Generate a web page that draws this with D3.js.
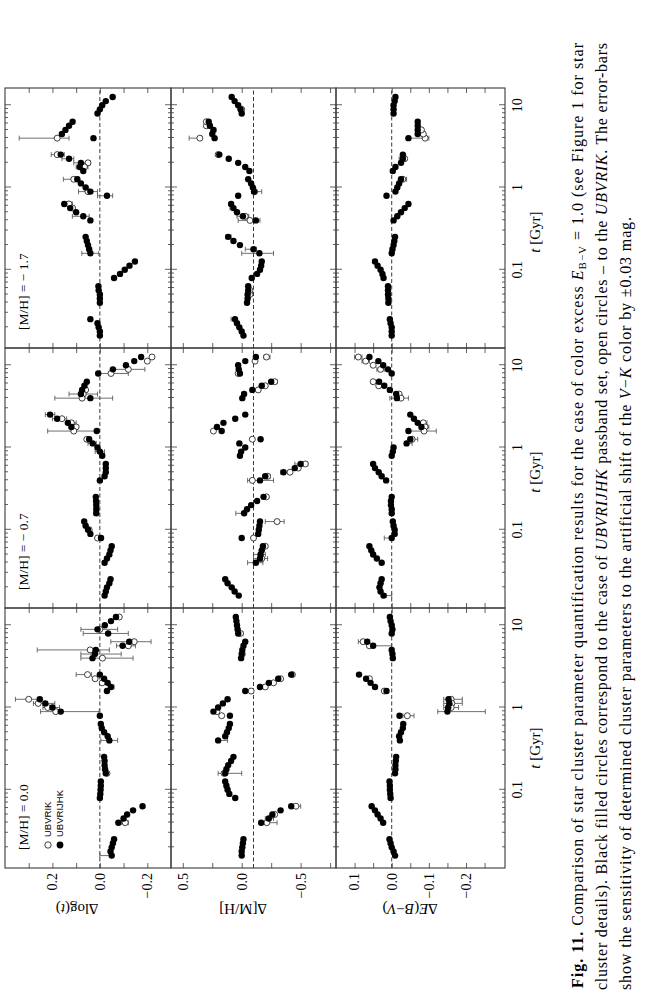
<!DOCTYPE html>
<html>
<head>
<meta charset="utf-8">
<script src="https://cdn.jsdelivr.net/npm/d3@7"></script>
<style>
  html, body { margin: 0; padding: 0; background: #fff; }
  svg { display: block; }
  text { font-family: "Liberation Serif", "Times New Roman", serif; fill: #000; }
</style>
</head>
<body>
<svg id="fig" width="659" height="1008"></svg>
<script>
// log10 of the cluster age in years, same grid in every panel
const logAges = [7.2, 7.25, 7.3, 7.35, 7.4, 7.6, 7.65, 7.7, 7.75, 7.8, 7.9, 7.95, 8.0, 8.05, 8.1,
  8.2, 8.25, 8.3, 8.35, 8.4, 8.6, 8.65, 8.7, 8.75, 8.8, 8.9, 8.95, 9.0, 9.05, 9.1,
  9.2, 9.25, 9.3, 9.35, 9.4, 9.6, 9.65, 9.7, 9.75, 9.8, 9.9, 9.95, 10.0, 10.05, 10.1];

const metLabels = ["[M/H] = 0.0", "[M/H] = − 0.7", "[M/H] = − 1.7"];
const legendLabels = ["UBVRIK", "UBVRIJHK"];
const xMajorTicks = [0.1, 1, 10];
const xMinorTicks = [0.02, 0.03, 0.04, 0.05, 0.06, 0.07, 0.08, 0.09, 0.2, 0.3, 0.4, 0.5, 0.6, 0.7, 0.8, 0.9, 2, 3, 4, 5, 6, 7, 8, 9];
const xTickLabels = ["0.1", "1", "10"];

// ---- Delta log(t) : filled = UBVRIJHK, open = UBVRIK, err = [logAge, lo, hi]
const dlogtFilled0 = [-0.05, -0.045, -0.05, -0.055, -0.06, -0.078, -0.1, -0.115, -0.14, -0.18, 0.0, -0.002, -0.003, -0.004, -0.004,
  -0.025, -0.022, -0.02, -0.02, -0.018, -0.04, -0.033, -0.018, -0.008, -0.004, 0.0, 0.165, 0.2, 0.23, 0.253,
  -0.03, -0.047, -0.033, -0.018, 0.0, 0.031, 0.021, 0.017, -0.096, -0.124, -0.035, 0.01, -0.021, -0.047, -0.068];
const dlogtOpen0 = [[10.1, -0.082], [9.95, 0.0], [9.8, -0.145], [9.75, -0.12], [9.7, 0.041], [9.6, -0.011], [9.4, 0.052],
  [9.35, 0.02], [9.3, -0.01], [9.1, 0.3], [9.05, 0.26], [9.0, 0.22], [8.95, 0.186], [7.6, -0.107], [8.2, -0.03]];
const dlogtErr0 = [[9.95, -0.075, 0.08], [9.9, -0.12, 0.07], [9.8, -0.216, -0.046], [9.75, -0.15, -0.07], [9.7, -0.04, 0.264],
  [9.65, -0.09, 0.08], [9.6, -0.14, 0.08], [9.4, 0.035, 0.1], [9.25, -0.06, -0.035], [9.1, 0.264, 0.356], [9.05, 0.19, 0.28],
  [9.0, 0.17, 0.24], [8.95, 0.003, 0.25], [8.6, -0.075, -0.004], [7.6, -0.12, -0.09], [7.2, -0.047, 0.0]];

const dlogtFilled1 = [-0.02, -0.025, -0.03, -0.04, -0.045, -0.02, -0.03, -0.04, -0.045, -0.05, -0.005, 0.04, 0.05, 0.06, 0.066,
  0.015, 0.015, 0.015, 0.016, 0.017, 0.0, -0.02, -0.025, -0.025, -0.025, -0.01, 0.0, 0.01, 0.03, 0.045,
  0.013, 0.12, 0.135, 0.18, 0.21, 0.04, 0.08, 0.075, 0.065, 0.055, 0.007, -0.055, -0.11, -0.145, -0.174];
const dlogtOpen1 = [[10.1, -0.22], [10.05, -0.2], [9.95, -0.12], [9.9, -0.047], [9.7, 0.06], [9.65, 0.07], [9.6, 0.075],
  [9.35, 0.16], [9.3, 0.12], [9.25, 0.1], [9.2, 0.11], [9.1, 0.055], [8.0, 0.045], [7.9, 0.01]];
const dlogtErr1 = [[9.95, -0.19, -0.055], [9.9, -0.12, 0.0], [9.65, 0.01, 0.13], [9.6, -0.054, 0.19], [9.4, 0.19, 0.23],
  [9.35, 0.14, 0.2], [9.3, 0.1, 0.14], [9.2, 0.01, 0.22], [9.05, 0.015, 0.05], [8.95, -0.02, 0.02], [8.3, 0.01, 0.025], [8.2, 0.008, 0.025]];

const dlogtFilled2 = [0.0, 0.0, 0.005, 0.01, 0.04, 0.0, 0.0, 0.0, 0.005, 0.006, -0.06, -0.085, -0.105, -0.125, -0.148,
  0.04, 0.045, 0.05, 0.055, 0.06, 0.04, 0.07, 0.1, 0.125, 0.15, -0.03, 0.04, 0.06, 0.08, 0.095,
  0.07, 0.085, 0.08, 0.13, 0.165, 0.027, 0.16, 0.145, 0.13, 0.115, 0.01, 0.0, -0.01, -0.025, -0.054];
const dlogtOpen2 = [[9.6, 0.18], [9.4, 0.18], [9.1, 0.11], [9.3, 0.05], [9.25, 0.065], [8.95, 0.05], [8.8, 0.13], [8.75, 0.115]];
const dlogtErr2 = [[9.6, 0.13, 0.34], [9.4, 0.15, 0.205], [9.35, 0.11, 0.16], [9.3, 0.04, 0.11], [9.25, 0.05, 0.1],
  [9.1, 0.088, 0.154], [8.95, 0.01, 0.09], [8.9, -0.054, 0.01], [8.8, 0.116, 0.158], [8.65, 0.045, 0.116], [8.2, 0.005, 0.076]];

// ---- Delta [M/H]
const dmhFilled0 = [0.0, 0.0, -0.005, -0.01, -0.015, -0.165, -0.23, -0.26, -0.33, -0.42, 0.055, 0.105, 0.12, 0.13, 0.14,
  0.14, 0.13, 0.115, 0.09, 0.07, 0.2, 0.14, 0.125, 0.11, 0.1, 0.1, 0.24, 0.2, 0.16, 0.12,
  -0.03, -0.155, -0.23, -0.31, -0.42, 0.005, 0.0, -0.005, -0.015, -0.03, 0.03, 0.035, 0.04, 0.045, 0.05];
const dmhOpen0 = [[7.8, -0.46], [7.7, -0.28], [7.6, -0.213], [8.9, 0.17], [8.95, 0.21], [9.2, -0.08], [9.25, -0.2],
  [9.3, -0.27], [9.35, -0.33], [9.4, -0.43], [8.2, 0.15], [9.9, 0.01], [9.65, -0.005]];
const dmhErr0 = [[7.8, -0.5, -0.44], [7.6, -0.3, -0.2], [7.65, -0.27, -0.2], [8.6, 0.12, 0.2], [8.2, 0.0, 0.2],
  [9.9, -0.01, 0.03], [9.2, -0.1, -0.07]];

const dmhFilled1 = [0.025, 0.06, 0.085, 0.12, 0.14, -0.12, -0.155, -0.16, -0.17, -0.18, 0.0, -0.14, -0.145, -0.15, -0.155,
  -0.02, -0.045, -0.08, -0.13, -0.185, -0.155, -0.2, -0.355, -0.45, -0.5, 0.015, 0.005, -0.03, 0.02, -0.16,
  0.17, 0.21, 0.155, 0.055, -0.03, -0.005, -0.02, -0.09, -0.17, -0.25, 0.015, 0.025, 0.03, -0.03, -0.12];
const dmhOpen1 = [[10.1, -0.21], [10.05, -0.113], [9.9, 0.03], [9.8, -0.28], [9.75, -0.2], [9.7, -0.14], [9.2, 0.24],
  [9.1, -0.09], [8.8, -0.54], [8.75, -0.48], [8.7, -0.41], [8.65, -0.22], [8.6, -0.09], [8.4, -0.21], [8.1, -0.3],
  [7.9, -0.1], [7.8, -0.2], [7.65, -0.17]];
const dmhErr1 = [[10.1, -0.24, -0.19], [9.8, -0.3, -0.24], [8.8, -0.56, -0.45], [8.7, -0.41, -0.33], [8.65, -0.24, -0.18],
  [8.6, -0.27, -0.05], [8.2, -0.04, 0.05], [8.1, -0.36, -0.2], [7.7, -0.2, -0.1], [7.65, -0.22, -0.1], [7.6, -0.18, -0.05]];

const dmhFilled2 = [-0.015, 0.0, 0.02, 0.04, 0.057, -0.045, -0.05, -0.05, -0.055, -0.055, -0.085, -0.13, -0.155, -0.165, -0.17,
  -0.15, -0.1, 0.015, 0.07, 0.115, -0.12, -0.01, 0.04, 0.07, 0.09, 0.03, -0.105, -0.095, -0.08, -0.055,
  -0.065, -0.03, 0.03, 0.11, 0.19, 0.23, 0.25, 0.24, 0.27, 0.28, 0.0, 0.01, 0.03, 0.06, 0.085];
const dmhOpen2 = [[9.6, 0.355], [9.75, 0.3], [9.8, 0.3], [9.4, 0.2], [8.95, -0.11], [8.6, -0.07], [8.65, -0.03],
  [7.7, -0.07], [7.75, -0.07], [9.95, 0.0]];
const dmhErr2 = [[9.6, 0.34, 0.446], [9.7, 0.22, 0.26], [8.95, -0.17, -0.085], [8.6, -0.155, 0.03], [8.65, -0.06, 0.04],
  [8.4, 0.09, 0.135], [8.25, -0.125, -0.03], [8.2, -0.27, 0.0], [7.4, 0.05, 0.09], [8.75, 0.06, 0.1]];

// ---- Delta E(B-V)
const debvFilled0 = [-0.009, -0.005, 0.0, 0.003, 0.006, 0.023, 0.03, 0.038, 0.045, 0.054, 0.003, 0.004, 0.005, 0.005, 0.006,
  -0.009, -0.01, -0.01, -0.011, -0.012, -0.022, -0.02, -0.025, -0.03, -0.031, -0.021, -0.15, -0.152, -0.155, -0.153,
  0.014, 0.045, 0.057, 0.069, 0.088, -0.003, -0.002, 0.0, 0.05, 0.066, 0.0, -0.002, 0.0, 0.003, 0.005];
const debvOpen0 = [[9.8, 0.077], [9.75, 0.06], [9.35, 0.06], [9.2, 0.02], [9.1, -0.16], [9.05, -0.162], [9.0, -0.16], [8.9, -0.042]];
const debvErr0 = [[9.8, 0.06, 0.09], [9.75, 0.0, 0.063], [9.1, -0.19, -0.14], [9.05, -0.19, -0.14], [9.0, -0.18, -0.14],
  [8.95, -0.252, -0.124], [8.9, -0.06, -0.03]];

const debvFilled1 = [0.022, 0.03, 0.033, 0.03, 0.027, 0.027, 0.04, 0.05, 0.055, 0.06, 0.0, -0.008, -0.008, -0.005, -0.003,
  0.0, 0.0, 0.002, 0.002, 0.0, 0.015, 0.027, 0.035, 0.045, 0.05, 0.0, -0.003, -0.005, -0.04, -0.05,
  -0.045, -0.08, -0.07, -0.06, -0.05, -0.014, -0.012, 0.005, 0.02, 0.034, 0.0, 0.01, 0.023, 0.036, 0.06];
const debvOpen1 = [[10.1, 0.09], [10.05, 0.07], [10.0, 0.05], [9.95, 0.03], [9.8, 0.05], [9.75, 0.035], [9.65, -0.02],
  [9.6, -0.025], [9.3, -0.085], [9.25, -0.09], [9.2, -0.087], [9.1, -0.055]];
const debvErr1 = [[10.1, 0.08, 0.1], [10.05, 0.06, 0.08], [9.95, 0.02, 0.04], [9.6, -0.045, 0.005], [9.3, -0.095, -0.07],
  [9.25, -0.1, -0.075], [9.2, -0.12, -0.045], [9.1, -0.07, -0.045], [9.05, -0.055, -0.04], [7.9, 0.0, 0.02], [7.2, 0.0, 0.015]];

const debvFilled2 = [0.0, 0.0, 0.0, 0.003, 0.005, 0.009, 0.009, 0.01, 0.01, 0.01, 0.022, 0.025, 0.03, 0.038, 0.045,
  0.0, -0.002, -0.005, -0.007, -0.009, -0.005, -0.015, -0.025, -0.035, -0.045, 0.014, -0.01, -0.015, -0.02, -0.025,
  -0.003, -0.01, -0.025, -0.03, -0.03, -0.045, -0.07, -0.07, -0.07, -0.07, -0.005, -0.005, -0.005, -0.008, -0.01];
const debvOpen2 = [[9.6, -0.09], [9.65, -0.085], [9.7, -0.08], [9.1, -0.03], [9.35, -0.035]];
const debvErr2 = [[9.6, -0.1, -0.05], [9.1, -0.04, -0.02], [9.35, -0.04, -0.02], [8.8, -0.05, -0.04]];

// ---------------------------------------------------------------- layout (upright frame, rotated at the end)
const W = 1008, H = 659;
const colX = [140, 400, 660], colW = 260;
const rows = [
  { y0: 5, y1: 171, domain: [-0.3, 0.4], ticks: [-0.2, -0.1, 0, 0.1, 0.2, 0.3], labels: [-0.2, 0, 0.2], ref: 0,
    title: "log", titleY: 77, filled: [dlogtFilled0, dlogtFilled1, dlogtFilled2], open: [dlogtOpen0, dlogtOpen1, dlogtOpen2], err: [dlogtErr0, dlogtErr1, dlogtErr2] },
  { y0: 171, y1: 336, domain: [-0.8, 0.6], ticks: [-0.75, -0.5, -0.25, 0, 0.25, 0.5], labels: [-0.5, 0, 0.5], ref: -0.1,
    title: "mh", titleY: 243, filled: [dmhFilled0, dmhFilled1, dmhFilled2], open: [dmhOpen0, dmhOpen1, dmhOpen2], err: [dmhErr0, dmhErr1, dmhErr2] },
  { y0: 336, y1: 505, domain: [-0.305, 0.15], ticks: [-0.25, -0.2, -0.15, -0.1, -0.05, 0, 0.05, 0.1], labels: [-0.2, -0.1, 0, 0.1], ref: 0,
    title: "ebv", titleY: 410, filled: [debvFilled0, debvFilled1, debvFilled2], open: [debvOpen0, debvOpen1, debvOpen2], err: [debvErr0, debvErr1, debvErr2] }
];
const tGyr = (L) => Math.pow(10, L - 9);
const fmt = (v) => (v < 0 ? "−" : "") + Math.abs(v).toFixed(1);

const svg = d3.select("#fig");
const root = svg.append("g").attr("transform", `translate(0,${W}) rotate(-90)`);

const frameColor = "#3a3a3a";

colX.forEach((cx, ci) => {
  const x = d3.scaleLog().domain([0.0112, 16.2]).range([cx, cx + colW]);

  rows.forEach((row, ri) => {
    const y = d3.scaleLinear().domain(row.domain).range([row.y1, row.y0]);
    const g = root.append("g");

    // dashed reference line
    g.append("line")
      .attr("x1", cx).attr("x2", cx + colW)
      .attr("y1", y(row.ref)).attr("y2", y(row.ref))
      .attr("stroke", "#222").attr("stroke-width", 0.9).attr("stroke-dasharray", "4,2.5");

    // x ticks, inward on top and bottom
    const axBotMaj = d3.axisBottom(x).tickValues(xMajorTicks).tickSizeInner(-6).tickSizeOuter(0).tickFormat("");
    const axBotMin = d3.axisBottom(x).tickValues(xMinorTicks).tickSizeInner(-3).tickSizeOuter(0).tickFormat("");
    const axTopMaj = d3.axisTop(x).tickValues(xMajorTicks).tickSizeInner(-6).tickSizeOuter(0).tickFormat("");
    const axTopMin = d3.axisTop(x).tickValues(xMinorTicks).tickSizeInner(-3).tickSizeOuter(0).tickFormat("");
    [[axBotMaj, row.y1], [axBotMin, row.y1], [axTopMaj, row.y0], [axTopMin, row.y0]].forEach(([ax, yy]) => {
      const a = g.append("g").attr("transform", `translate(0,${yy})`).call(ax);
      a.select(".domain").remove();
      a.selectAll("line").attr("stroke", frameColor).attr("stroke-width", 0.8);
    });

    // y ticks, inward on left and right
    [[d3.axisLeft(y), cx], [d3.axisRight(y), cx + colW]].forEach(([ax, xx]) => {
      const a = g.append("g").attr("transform", `translate(${xx},0)`)
        .call(ax.tickValues(row.ticks).tickSizeInner(-5).tickSizeOuter(0).tickFormat(""));
      a.select(".domain").remove();
      a.selectAll("line").attr("stroke", frameColor).attr("stroke-width", 0.8);
    });

    // frame
    g.append("rect")
      .attr("x", cx).attr("y", row.y0).attr("width", colW).attr("height", row.y1 - row.y0)
      .attr("fill", "none").attr("stroke", frameColor).attr("stroke-width", 1.1);

    // error bars
    const eb = g.append("g").attr("stroke", "#4a4a4a").attr("stroke-width", 0.8);
    row.err[ci].forEach(([L, lo, hi]) => {
      const px = x(tGyr(L));
      eb.append("line").attr("x1", px).attr("x2", px).attr("y1", y(lo)).attr("y2", y(hi));
      eb.append("line").attr("x1", px - 2.5).attr("x2", px + 2.5).attr("y1", y(lo)).attr("y2", y(lo));
      eb.append("line").attr("x1", px - 2.5).attr("x2", px + 2.5).attr("y1", y(hi)).attr("y2", y(hi));
    });

    // open circles (UBVRIK)
    g.selectAll(".open").data(row.open[ci]).enter().append("circle")
      .attr("cx", (d) => x(tGyr(d[0]))).attr("cy", (d) => y(d[1])).attr("r", 3)
      .attr("fill", "#fff").attr("stroke", "#111").attr("stroke-width", 0.8);

    // filled circles (UBVRIJHK)
    g.selectAll(".filled").data(logAges.map((L, i) => [L, row.filled[ci][i]])).enter().append("circle")
      .attr("cx", (d) => x(tGyr(d[0]))).attr("cy", (d) => y(d[1])).attr("r", 3.2)
      .attr("fill", "#000");

    // y tick labels only on the first column
    if (ci === 0) {
      row.labels.forEach((v) => {
        g.append("text").attr("x", cx - 5).attr("y", y(v)).attr("dy", "0.35em")
          .attr("text-anchor", "end").attr("font-size", 14).text(fmt(v));
      });
    }

    // x tick labels only on the bottom row
    if (ri === rows.length - 1) {
      xMajorTicks.forEach((t, k) => {
        g.append("text").attr("x", x(t)).attr("y", row.y1 + 17)
          .attr("text-anchor", "middle").attr("font-size", 14).text(xTickLabels[k]);
      });
    }
  });

  // metallicity label in the top row
  root.append("text").attr("x", cx + 18).attr("y", 28).attr("font-size", 13.5).text(metLabels[ci]);
});

// x axis titles
[260, 536, 776].forEach((tx) => {
  const t = root.append("text").attr("x", tx).attr("y", 540).attr("text-anchor", "middle").attr("font-size", 15);
  t.append("tspan").attr("font-style", "italic").text("t");
  t.append("tspan").text(" [Gyr]");
});

// y axis titles
rows.forEach((row) => {
  const t = root.append("text")
    .attr("transform", `translate(104,${row.titleY}) rotate(-90)`)
    .attr("text-anchor", "middle").attr("font-size", 15);
  if (row.title === "log") {
    t.append("tspan").text("∆log(");
    t.append("tspan").attr("font-style", "italic").text("t");
    t.append("tspan").text(")");
  } else if (row.title === "mh") {
    t.append("tspan").text("∆[M/H]");
  } else {
    t.append("tspan").text("∆");
    t.append("tspan").attr("font-style", "italic").text("E");
    t.append("tspan").text("(");
    t.append("tspan").attr("font-style", "italic").text("B");
    t.append("tspan").text("−");
    t.append("tspan").attr("font-style", "italic").text("V");
    t.append("tspan").text(")");
  }
});

// legend
const leg = root.append("g");
leg.append("circle").attr("cx", 163).attr("cy", 48).attr("r", 3.2).attr("fill", "#fff").attr("stroke", "#111").attr("stroke-width", 0.8);
leg.append("circle").attr("cx", 163).attr("cy", 60).attr("r", 3.4).attr("fill", "#000");
legendLabels.forEach((s, i) => {
  leg.append("text").attr("x", 171).attr("y", 48 + 12 * i).attr("dy", "0.35em")
    .attr("font-size", 9.5).style("font-family", "'Liberation Sans', Arial, sans-serif").text(s);
});

// caption
const cap = root.append("g").attr("font-size", 16);
const l1 = cap.append("text").attr("x", 20).attr("y", 583).attr("textLength", 945).attr("lengthAdjust", "spacing");
l1.append("tspan").attr("font-weight", "bold").text("Fig. 11.");
l1.append("tspan").text(" Comparison of star cluster parameter quantification results for the case of color excess ");
l1.append("tspan").attr("font-style", "italic").text("E");
l1.append("tspan").attr("font-size", 11).attr("dy", 3).text("B−V");
l1.append("tspan").attr("dy", -3).text(" = 1.0 (see Figure 1 for star");

const l2 = cap.append("text").attr("x", 18).attr("y", 607).attr("textLength", 947).attr("lengthAdjust", "spacing");
l2.append("tspan").text("cluster details). Black filled circles correspond to the case of ");
l2.append("tspan").attr("font-style", "italic").text("UBVRIJHK");
l2.append("tspan").text(" passband set, open circles – to the ");
l2.append("tspan").attr("font-style", "italic").text("UBVRIK");
l2.append("tspan").text(". The error-bars");

const l3 = cap.append("text").attr("x", 18).attr("y", 631).attr("textLength", 773).attr("lengthAdjust", "spacing");
l3.append("tspan").text("show the sensitivity of determined cluster parameters to the artificial shift of the ");
l3.append("tspan").attr("font-style", "italic").text("V");
l3.append("tspan").text("−");
l3.append("tspan").attr("font-style", "italic").text("K");
l3.append("tspan").text(" color by ±0.03 mag.");
</script>
</body>
</html>
